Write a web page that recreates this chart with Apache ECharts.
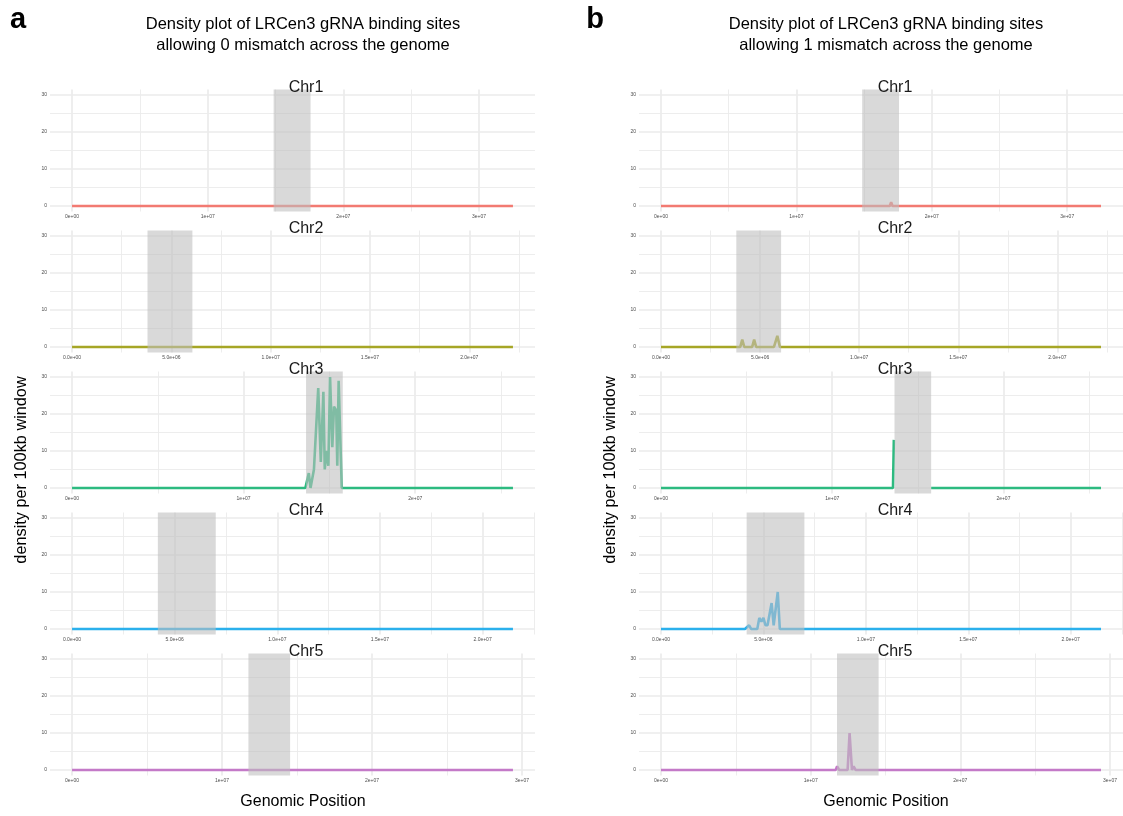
<!DOCTYPE html>
<html>
<head>
<meta charset="utf-8">
<script src="https://cdn.jsdelivr.net/npm/echarts@6/dist/echarts.min.js"></script>
<style>
  html, body { margin: 0; padding: 0; background: #ffffff; }
  #chart { width: 1123px; height: 816px; }
</style>
</head>
<body>
<div id="chart"></div>
<script>
// Chromosomes, their lengths (bp) and centromere spans (bp)
const chromosomes = ['Chr1', 'Chr2', 'Chr3', 'Chr4', 'Chr5'];
const chromLengths = [3.25e7, 2.22e7, 2.57e7, 2.148e7, 2.94e7];
const centromereStart = [1.486e7, 0.380e7, 1.364e7, 0.418e7, 1.176e7];
const centromereEnd = [1.758e7, 0.606e7, 1.578e7, 0.700e7, 1.454e7];
const lineColors = ['#F27A72', '#A6A626', '#2DBA80', '#2BB0EC', '#C47AC8'];

// Axis breaks and their printed labels
const xTickValues = [
  [0, 1e7, 2e7, 3e7],
  [0, 5e6, 1e7, 1.5e7, 2e7],
  [0, 1e7, 2e7],
  [0, 5e6, 1e7, 1.5e7, 2e7],
  [0, 1e7, 2e7, 3e7]
];
const xTickLabels = [
  ['0e+00', '1e+07', '2e+07', '3e+07'],
  ['0.0e+00', '5.0e+06', '1.0e+07', '1.5e+07', '2.0e+07'],
  ['0e+00', '1e+07', '2e+07'],
  ['0.0e+00', '5.0e+06', '1.0e+07', '1.5e+07', '2.0e+07'],
  ['0e+00', '1e+07', '2e+07', '3e+07']
];
const yTickValues = [0, 10, 20, 30];
const yMinorValues = [5, 15, 25];

// Binding-site density per 100kb window, 0 mismatches: [position, count]
// (windows not listed are 0 from the chromosome start to its end)
const mismatch0Chr1 = [];
const mismatch0Chr2 = [];
const mismatch0Chr3 = [
  [1.36e7, 0], [1.38e7, 4], [1.39e7, 0], [1.41e7, 5], [1.435e7, 27], [1.45e7, 7],
  [1.465e7, 26], [1.473e7, 5], [1.483e7, 10], [1.494e7, 6], [1.504e7, 30], [1.517e7, 11],
  [1.527e7, 22], [1.54e7, 21], [1.546e7, 6], [1.554e7, 29], [1.572e7, 0]
];
const mismatch0Chr4 = [];
const mismatch0Chr5 = [];

// Binding-site density per 100kb window, 1 mismatch: [position, count]; '-' = no windows
const mismatch1Chr1 = [[1.69e7, 0], [1.70e7, 1], [1.71e7, 0]];
const mismatch1Chr2 = [
  [0.40e7, 0], [0.41e7, 2], [0.42e7, 0], [0.46e7, 0], [0.47e7, 2], [0.48e7, 0],
  [0.57e7, 0], [0.587e7, 3], [0.60e7, 0]
];
const mismatch1Chr3 = [[1.355e7, 0], [1.36e7, 13], [1.365e7, '-'], [1.578e7, 0]];
const mismatch1Chr4 = [
  [0.41e7, 0], [0.43e7, 1], [0.44e7, 0], [0.47e7, 0], [0.48e7, 3], [0.49e7, 2],
  [0.50e7, 3], [0.51e7, 1], [0.52e7, 1], [0.54e7, 7], [0.55e7, 1], [0.57e7, 10], [0.58e7, 0]
];
const mismatch1Chr5 = [
  [1.167e7, 0], [1.177e7, 1], [1.19e7, 0], [1.247e7, 0], [1.26e7, 10], [1.276e7, 0],
  [1.287e7, 1], [1.30e7, 0]
];

const panels = [
  {
    letter: 'a', left: 50, labelX: 18, textX: 303, stripX: 306,
    title: ['Density plot of LRCen3 gRNA binding sites', 'allowing 0 mismatch across the genome'],
    peaks: [mismatch0Chr1, mismatch0Chr2, mismatch0Chr3, mismatch0Chr4, mismatch0Chr5]
  },
  {
    letter: 'b', left: 639, labelX: 595, textX: 886, stripX: 895,
    title: ['Density plot of LRCen3 gRNA binding sites', 'allowing 1 mismatch across the genome'],
    peaks: [mismatch1Chr1, mismatch1Chr2, mismatch1Chr3, mismatch1Chr4, mismatch1Chr5]
  }
];

const PANEL_W = 485, PANEL_H = 122, PANEL_TOP = 89.5, PANEL_STEP = 141;
const FONT = '"Liberation Sans", Arial, Helvetica, sans-serif';
const GRID_COLOR = '#EBEBEB';

const grids = [], xAxes = [], yAxes = [], series = [], graphics = [];

panels.forEach((p, pi) => {
  graphics.push({
    type: 'text', x: p.labelX, y: 20,
    style: { text: p.letter, font: 'bold 29px ' + FONT, fill: '#000', align: 'center', verticalAlign: 'middle' }
  });
  graphics.push({
    type: 'text', x: p.textX, y: 35,
    style: { text: p.title.join('\n'), font: '16.5px ' + FONT, fill: '#000',
             align: 'center', verticalAlign: 'middle', lineHeight: 21 }
  });
  graphics.push({
    type: 'text', x: p.textX, y: 802,
    style: { text: 'Genomic Position', font: '16px ' + FONT, fill: '#000',
             align: 'center', verticalAlign: 'middle' }
  });
  graphics.push({
    type: 'text', x: p.left - 28, y: 470, rotation: Math.PI / 2,
    style: { text: 'density per 100kb window', font: '16.3px ' + FONT, fill: '#000',
             align: 'center', verticalAlign: 'middle' }
  });

  chromosomes.forEach((chr, ci) => {
    const gi = pi * 5 + ci;
    const L = chromLengths[ci];
    const xmin = -0.05 * L, xmax = 1.05 * L;
    const ticks = xTickValues[ci];
    const step = ticks[1] - ticks[0];
    const minors = [];
    for (let m = ticks[0] + step / 2; m < xmax; m += step) minors.push(m);

    grids.push({ left: p.left, width: PANEL_W, top: PANEL_TOP + PANEL_STEP * ci, height: PANEL_H });
    xAxes.push({
      type: 'value', gridIndex: gi, min: xmin, max: xmax,
      axisLine: { show: false }, axisTick: { show: false }, splitLine: { show: false },
      axisLabel: {
        customValues: ticks, fontSize: 5, color: '#4D4D4D', margin: 3, fontFamily: FONT,
        formatter: v => {
          const k = ticks.findIndex(t => Math.abs(t - v) < 1);
          return k >= 0 ? xTickLabels[ci][k] : '';
        }
      }
    });
    yAxes.push({
      type: 'value', gridIndex: gi, min: -1.5, max: 31.5,
      axisLine: { show: false }, axisTick: { show: false }, splitLine: { show: false },
      axisLabel: { customValues: yTickValues, fontSize: 5, color: '#4D4D4D', margin: 3, fontFamily: FONT }
    });

    // panel grid lines (major and minor breaks)
    const gridLines = []
      .concat(ticks.map(v => ({ xAxis: v, lineStyle: { width: 1.7 } })))
      .concat(minors.map(v => ({ xAxis: v, lineStyle: { width: 0.9 } })))
      .concat(yTickValues.map(v => ({ yAxis: v, lineStyle: { width: 1.7 } })))
      .concat(yMinorValues.map(v => ({ yAxis: v, lineStyle: { width: 0.9 } })));
    series.push({
      type: 'line', xAxisIndex: gi, yAxisIndex: gi, data: [], z: 1, silent: true,
      markLine: {
        z: 1, silent: true, symbol: 'none', animation: false, label: { show: false },
        lineStyle: { color: GRID_COLOR, type: 'solid' }, data: gridLines
      }
    });

    // density line
    const data = [[0, 0]].concat(p.peaks[ci]).concat([[L, 0]]);
    series.push({
      type: 'line', name: chr, xAxisIndex: gi, yAxisIndex: gi, z: 2,
      data: data, showSymbol: false, symbol: 'none', connectNulls: false,
      lineStyle: { color: lineColors[ci], width: 2.6 }
    });

    // centromere shading, laid over the line
    series.push({
      type: 'line', xAxisIndex: gi, yAxisIndex: gi, data: [], z: 3, silent: true,
      markArea: {
        z: 3, silent: true, animation: false,
        itemStyle: { color: 'rgba(190,190,190,0.58)' },
        data: [[{ xAxis: centromereStart[ci] }, { xAxis: centromereEnd[ci] }]]
      }
    });

    // facet strip label
    graphics.push({
      type: 'text', x: p.stripX, y: PANEL_TOP - 2 + PANEL_STEP * ci, z: 10,
      style: { text: chr, font: '16px ' + FONT, fill: '#1A1A1A', align: 'center', verticalAlign: 'middle' }
    });
  });
});

const chart = echarts.init(document.getElementById('chart'), null, { renderer: 'canvas' });
chart.setOption({
  animation: false,
  backgroundColor: '#ffffff',
  grid: grids,
  xAxis: xAxes,
  yAxis: yAxes,
  series: series,
  graphic: graphics
});
</script>
</body>
</html>
